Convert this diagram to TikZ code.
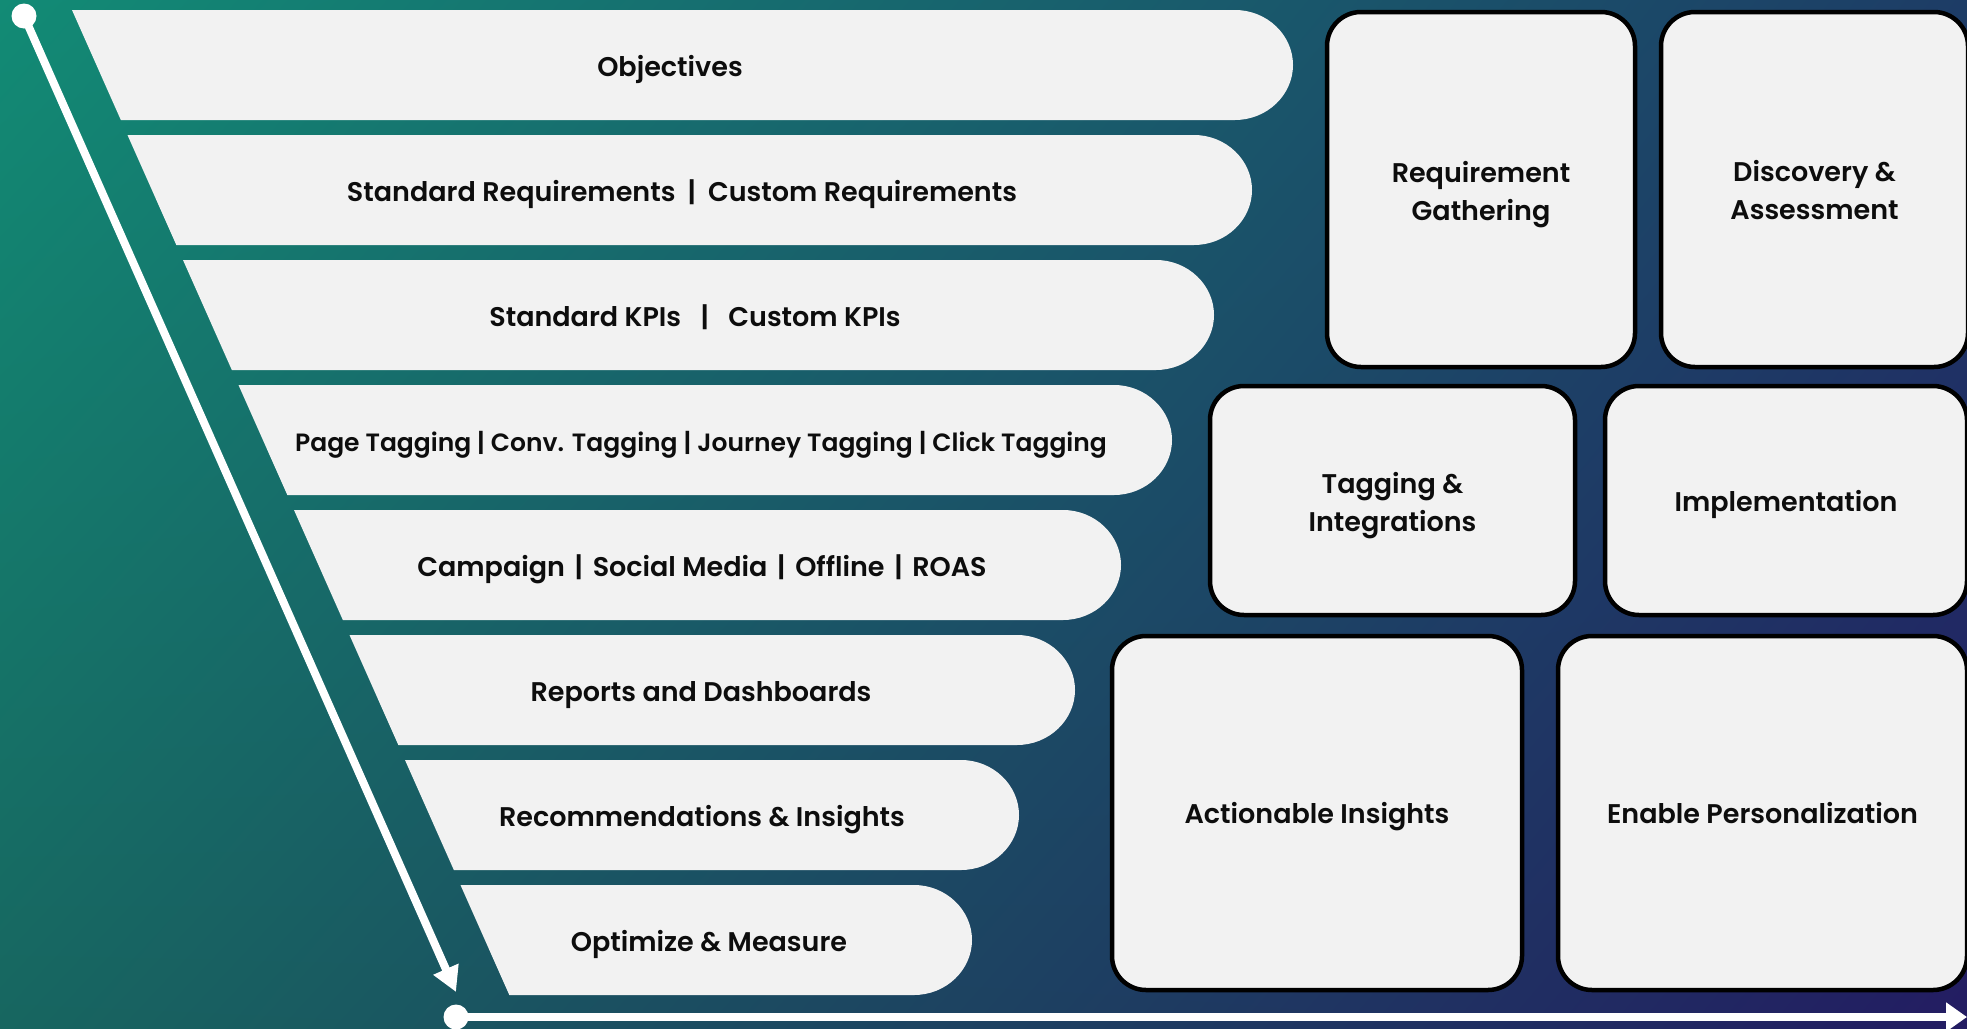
\documentclass[tikz,border=0pt]{standalone}
\usepackage{fontspec}
\setmainfont{Poppins}[BoldFont={* SemiBold}]
\usetikzlibrary{arrows.meta,shadings,calc}

\definecolor{bgUL}{HTML}{128B75}
\definecolor{bgUR}{HTML}{1D3C66}
\definecolor{bgLL}{HTML}{176660}
\definecolor{bgLR}{HTML}{231C62}
\definecolor{panel}{HTML}{F2F2F2}
\definecolor{ink}{HTML}{0D0D0D}

\newcommand\sep[1]{\hspace{#1}|\hspace{#1}}

\tikzset{
  bandtext/.style={text=ink, font=\fontsize{27}{38}\selectfont\bfseries, inner sep=0pt, anchor=base},
  card/.style={draw=black, line width=4.5pt, fill=panel, rounded corners=34pt},
  cardtext/.style={text=ink, align=center, inner sep=0pt,
               font=\fontsize{27}{38}\selectfont\bfseries},
  onetext/.style={cardtext, text height=21pt, text depth=0pt},
  dot/.style={circle, fill=white, minimum size=25pt, inner sep=0pt},
  flow/.style={draw=white, line width=8pt},
}

\begin{document}
\begin{tikzpicture}[x=1pt,y=-1pt]
\useasboundingbox (0,0) rectangle (1967,1028);
% background gradient
\shade[upper left=bgUL, upper right=bgUR, lower left=bgLL, lower right=bgLR]
  (0,0) rectangle (1967,1028);

% funnel bands: slanted left edge, rounded right end
\foreach \i/\R/\tx/\lbl in {
  0/1293/670/{Objectives},
  1/1252/682/{Standard Requirements\sep{0.45em}Custom Requirements},
  2/1214/695/{Standard KPIs\sep{0.72em}Custom KPIs},
  3/1172/701/{\fontsize{25}{30}\selectfont Page Tagging | Conv. Tagging | Journey Tagging | Click Tagging},
  4/1121/702/{Campaign\sep{0.36em}Social Media\sep{0.36em}Offline\sep{0.36em}ROAS},
  5/1075/701/{Reports and Dashboards},
  6/1019/702/{Recommendations \& Insights},
  7/972/709/{Optimize \& Measure}} {
  \pgfmathsetmacro\yT{10+125*\i}
  \pgfmathsetmacro\yB{\yT+110}
  \pgfmathsetmacro\yM{\yT+55}
  \pgfmathsetmacro\xT{72+0.444*(\yT-10)}
  \pgfmathsetmacro\xB{72+0.444*(\yB-10)}
  \pgfmathsetmacro\xS{\R-58}
  \pgfmathsetmacro\xC{\R-26}
  \fill[panel] (\xT,\yT) -- (\xS,\yT)
    .. controls (\xC,\yT) and (\R,\yM-30) .. (\R,\yM)
    .. controls (\R,\yM+30) and (\xC,\yB) .. (\xS,\yB)
    -- (\xB,\yB) -- cycle;
  \node[bandtext] (band\i) at (\tx,\yM+11.5) {\lbl};
}

% stage cards
\node[card, minimum width=308pt, minimum height=355pt] (req)  at (1481,189.5) {};
\node[card, minimum width=307pt, minimum height=355pt] (disc) at (1814.5,189.5) {};
\node[card, minimum width=365pt, minimum height=229pt] (tag)  at (1392.5,500.5) {};
\node[card, minimum width=362pt, minimum height=229pt] (impl) at (1786,500.5) {};
\node[card, minimum width=410pt, minimum height=354pt] (act)  at (1317,813) {};
\node[card, minimum width=409pt, minimum height=354pt] (enab) at (1762.5,813) {};

\node[cardtext] (req-t)  at ($(req.center)+(0,5)$)  {Requirement\\Gathering};
\node[cardtext] (disc-t) at ($(disc.center)+(0,1)$) {Discovery \&\\Assessment};
\node[cardtext] (tag-t)  at ($(tag.center)+(0,5)$)  {Tagging \&\\Integrations};
\node[onetext]  (impl-t) at (impl.center) {Implementation};
\node[onetext]  (act-t)  at (act.center)  {Actionable Insights};
\node[onetext]  (enab-t) at (enab.center) {Enable Personalization};

% axes
\node[dot] (vstart) at (24,16) {};
\coordinate (vend) at (456,992);
\draw[flow, -{Triangle[length=25pt, width=26pt]}] (vstart.center) -- (vend);

\node[dot] (hstart) at (456,1017) {};
\coordinate (hend) at (1967,1017);
\draw[flow, -{Triangle[length=21pt, width=28pt]}] (hstart.center) -- (hend);
\end{tikzpicture}
\end{document}
